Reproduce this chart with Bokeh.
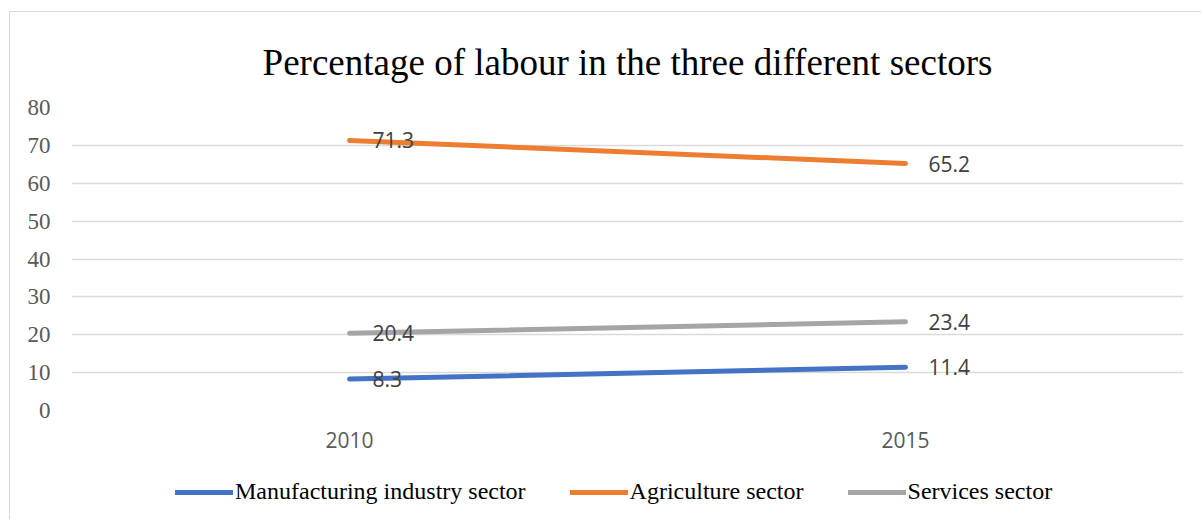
from bokeh.plotting import figure
from bokeh.layouts import column
from bokeh.models import Range1d, Legend, LegendItem, ColumnDataSource
from bokeh.core.properties import value
from bokeh.embed import file_html
from bokeh.resources import INLINE

title_text = "Percentage of labour in the three different sectors"
years = ["2010", "2015"]
series_names = ["Manufacturing industry sector", "Agriculture sector", "Services sector"]
manufacturing = [8.3, 11.4]
agriculture = [71.3, 65.2]
services = [20.4, 23.4]
series_values = [manufacturing, agriculture, services]
colors = ["#4472C4", "#ED7D31", "#A5A5A5"]
y_ticks = [0, 10, 20, 30, 40, 50, 60, 70, 80]

p = figure(width=1192, height=456, x_range=years, y_range=Range1d(0, 80),
           output_backend="svg", toolbar_location=None,
           min_border_left=61, min_border_right=19, min_border_top=95, min_border_bottom=58)
p.styles = {"border-left": "1px solid #d9d9d9", "border-top": "1px solid #d9d9d9"}
p.outline_line_color = None
p.background_fill_color = "white"
p.border_fill_color = "white"

p.title.text = title_text
p.title.align = "center"
p.title.text_font = "Liberation Serif"
p.title.text_font_size = "37px"
p.title.text_font_style = "normal"
p.title.text_color = "#000000"
p.title.standoff = 49

p.xgrid.grid_line_color = None
p.ygrid.grid_line_color = "#d9d9d9"
p.ygrid.grid_line_width = 1.5

p.yaxis.ticker = y_ticks
p.yaxis.axis_line_color = None
p.yaxis.major_tick_line_color = None
p.yaxis.minor_tick_line_color = None
p.yaxis.major_tick_out = 0
p.yaxis.major_tick_in = 0
p.yaxis.major_label_text_font = "Liberation Serif"
p.yaxis.major_label_text_font_size = "23px"
p.yaxis.major_label_text_color = "#595959"
p.yaxis.major_label_standoff = 21

p.xaxis.axis_line_color = None
p.xaxis.major_tick_line_color = None
p.xaxis.major_tick_out = 0
p.xaxis.major_tick_in = 0
p.xaxis.major_label_text_font = "Open Sans"
p.xaxis.major_label_text_font_size = "21px"
p.xaxis.major_label_text_color = "#595959"
p.xaxis.major_label_standoff = 21

# legend strip below the chart
pl = figure(width=1192, height=52, x_range=years, y_range=Range1d(0, 80),
            output_backend="svg", toolbar_location=None,
            min_border_left=0, min_border_right=0, min_border_top=0, min_border_bottom=0)
pl.styles = {"border-left": "1px solid #d9d9d9"}
pl.axis.visible = False
pl.grid.visible = False
pl.outline_line_color = None
pl.background_fill_color = "white"
pl.border_fill_color = "white"

items = []
for name, vals, col in zip(series_names, series_values, colors):
    src = ColumnDataSource(dict(x=years, y=vals, t=[str(v) for v in vals]))
    p.line("x", "y", source=src, line_color=col, line_width=5, line_cap="round")
    p.text("x", "y", text="t", source=src, x_offset=23, text_align="left",
           text_baseline="middle", text_font=value("Open Sans"),
           text_font_size="21px", text_color="#404040")
    rl = pl.line("x", "y", source=src, line_color=col, line_width=5, line_cap="round",
                 visible=False)
    items.append(LegendItem(label=name, renderers=[rl]))

legend = Legend(items=items, orientation="horizontal", location=(104, 14),
                label_text_font="Liberation Serif", label_text_font_size="24px",
                label_text_color="#000000", glyph_width=58, label_standoff=2,
                spacing=44, border_line_color=None, background_fill_alpha=0,
                margin=0, padding=4)
pl.add_layout(legend)

layout = column(p, pl, spacing=0)

html = file_html(layout, INLINE)
html = html.replace("</head>", "<style>html,body{margin:0;padding:0;overflow:hidden;} body{padding:11px 0 0 9px;}</style></head>", 1)
open("out.html", "w").write(html)
